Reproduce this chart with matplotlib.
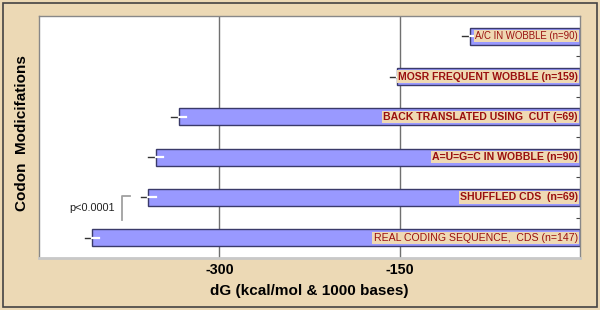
import matplotlib
matplotlib.use("Agg")
import matplotlib.pyplot as plt
from matplotlib.patches import Rectangle

categories = ["A/C IN WOBBLE (n=90)",
              "MOSR FREQUENT WOBBLE (n=159)",
              "BACK TRANSLATED USING  CUT (=69)",
              "A=U=G=C IN WOBBLE (n=90)",
              "SHUFFLED CDS  (n=69)",
              "REAL CODING SEQUENCE,  CDS (n=147)"]
values = [-92, -152, -334, -353, -359, -406]
errors = [6, 6, 6, 6, 6, 6]
label_bold = [False, True, True, True, True, False]
label_size = [6.9, 7.5, 7.6, 7.6, 7.6, 7.6]
xticks = [-300, -150]
xtick_labels = ["-300", "-150"]

bg = "#ECD9B5"
bar_face = "#9999FF"
bar_edge = "#3A3A6A"
text_red = "#9A1010"

plt.rcParams['font.family'] = ['Liberation Sans', 'DejaVu Sans']

fig = plt.figure(figsize=(6.0, 3.1), dpi=100)
fig.patch.set_facecolor(bg)
# outer frame
fig.add_artist(Rectangle((0.005, 0.01), 0.99, 0.98, transform=fig.transFigure,
                         fill=False, edgecolor="#444444", linewidth=1.2))

ax = fig.add_axes([0.065, 0.168, 0.902, 0.780])
ax.set_facecolor("white")
ax.set_xlim(-450, 0)
ax.set_ylim(len(categories) - 0.5, -0.5)

ypos = list(range(len(categories)))
for x in xticks:
    ax.axvline(x, color="#707070", linewidth=1.0, zorder=1)

ax.barh(ypos, values, height=0.42, color=bar_face, edgecolor=bar_edge,
        linewidth=1.0, zorder=2)

for y, v, e, lab, b, fs in zip(ypos, values, errors, categories, label_bold,
                               label_size):
    ax.plot([v - e, v], [y, y], color="#333333", linewidth=1.0, zorder=3)
    ax.plot([v, v + e], [y, y], color="white", linewidth=1.6, zorder=3)
    ax.text(-2, y, lab, ha="right", va="center", fontsize=fs,
            fontweight="bold" if b else "normal", color=text_red, zorder=4,
            bbox=dict(boxstyle="square,pad=0.12", facecolor="#EFD9B3",
                      edgecolor="none"))

# significance bracket
ax.plot([-374, -381, -381], [3.97, 3.97, 4.57], color="#A0A0A0",
        linewidth=1.3, zorder=3)
ax.text(-406, 4.27, "p<0.0001", ha="center", va="center", fontsize=7.8,
        color="#222222")

ax.set_xticks(xticks)
ax.set_xticklabels(xtick_labels, fontsize=10.3, fontweight="bold")
ax.tick_params(axis="x", length=0, pad=4)
ax.set_yticks([i + 0.5 for i in range(len(categories) - 1)])
ax.set_yticklabels([])
ax.yaxis.tick_right()
ax.tick_params(axis="y", direction="in", length=3, color="#444444")

for s in ["left", "top", "right"]:
    ax.spines[s].set_color("#888888")
    ax.spines[s].set_linewidth(1.0)
ax.spines["bottom"].set_color("#C8C8C8")
ax.spines["bottom"].set_linewidth(2.0)

ax.set_xlabel("dG (kcal/mol & 1000 bases)", fontsize=11, fontweight="bold",
              labelpad=5)
fig.text(0.037, 0.571, "Codon  Modicifations", rotation=90, ha="center",
         va="center", fontsize=11, fontweight="bold")

fig.savefig("out.png", dpi=100, facecolor=bg)
